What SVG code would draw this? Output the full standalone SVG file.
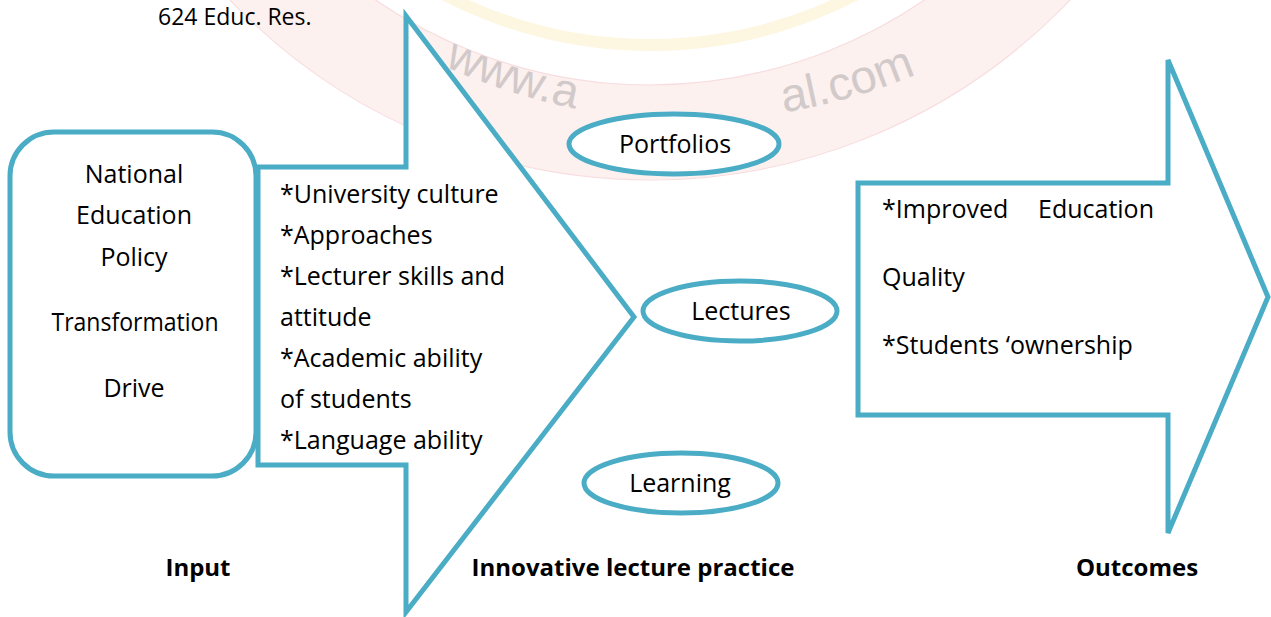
<svg xmlns="http://www.w3.org/2000/svg" width="1271" height="617" viewBox="0 0 1271 617">
<style>
.shape{fill:#fff;stroke:#4BACC6;stroke-width:5;stroke-linejoin:miter}
.t{font-family:"Open Sans","Noto Sans","Liberation Sans",sans-serif;font-size:25px;fill:#000}
.h{font-size:23px}
.c{text-anchor:middle}
.b{font-weight:bold;font-size:24px}
.wm{font-family:"Liberation Sans",Arial,sans-serif;font-size:47px;fill:#d2caca}
</style>
<defs>
<path id="wmArc" d="M250,-79.5 A585,585 0 0 0 1130,-79.5"/>
</defs>
<rect width="1271" height="617" fill="#fff"/>
<g id="watermark" fill="none">
<circle cx="650" cy="-400" r="532" stroke="#fcf1ee" stroke-width="95"/>
<circle cx="650" cy="-400" r="580" stroke="#f8dde0" stroke-width="1.2"/>
<circle cx="650" cy="-400" r="485" stroke="#f8dde0" stroke-width="1.2"/>
<circle cx="650" cy="-400" r="445" stroke="#fdf6e0" stroke-width="12"/>
<text class="wm"><textPath href="#wmArc" startOffset="244">www.a</textPath></text>
<text class="wm"><textPath href="#wmArc" startOffset="592">al.com</textPath></text>
</g>
<text class="t h" x="158" y="25">624 Educ. Res.</text>
<g id="connectors">
<polygon id="arrow-innovative" class="shape" points="258,167 406,167 406,16 634,317 406,612 406,465 258,465"/>
<polygon id="arrow-outcomes" class="shape" points="858,183 1168,183 1168,60 1268,297 1168,533 1168,415 858,415"/>
</g>
<g id="input">
<rect class="shape" x="10" y="132" width="246" height="344" rx="44" ry="44"/>
<text class="t c" x="134" y="183">National</text>
<text class="t c" x="134" y="224">Education</text>
<text class="t c" x="134" y="266">Policy</text>
<text class="t c" x="135" y="331" textLength="167" lengthAdjust="spacingAndGlyphs">Transformation</text>
<text class="t c" x="134" y="397">Drive</text>
</g>
<g id="factors">
<text class="t" x="280" y="203">*University culture</text>
<text class="t" x="280" y="244">*Approaches</text>
<text class="t" x="280" y="285">*Lecturer skills and</text>
<text class="t" x="280" y="326">attitude</text>
<text class="t" x="280" y="367">*Academic ability</text>
<text class="t" x="280" y="408">of students</text>
<text class="t" x="280" y="449">*Language ability</text>
</g>
<g id="portfolios">
<ellipse class="shape" cx="674" cy="144" rx="105" ry="30"/>
<text class="t c" x="675" y="153">Portfolios</text>
</g>
<g id="lectures">
<ellipse class="shape" cx="740" cy="311" rx="97" ry="30"/>
<text class="t c" x="741" y="320">Lectures</text>
</g>
<g id="learning">
<ellipse class="shape" cx="681" cy="483" rx="97" ry="30"/>
<text class="t c" x="680" y="492">Learning</text>
</g>
<g id="outcomes">
<text class="t" x="882" y="218">*Improved</text>
<text class="t" x="1038" y="218">Education</text>
<text class="t" x="882" y="286">Quality</text>
<text class="t" x="882" y="354">*Students ‘ownership</text>
</g>
<g id="labels">
<text class="t c b" x="198" y="576">Input</text>
<text class="t c b" x="633" y="576">Innovative lecture practice</text>
<text class="t c b" x="1137" y="576">Outcomes</text>
</g>
</svg>
